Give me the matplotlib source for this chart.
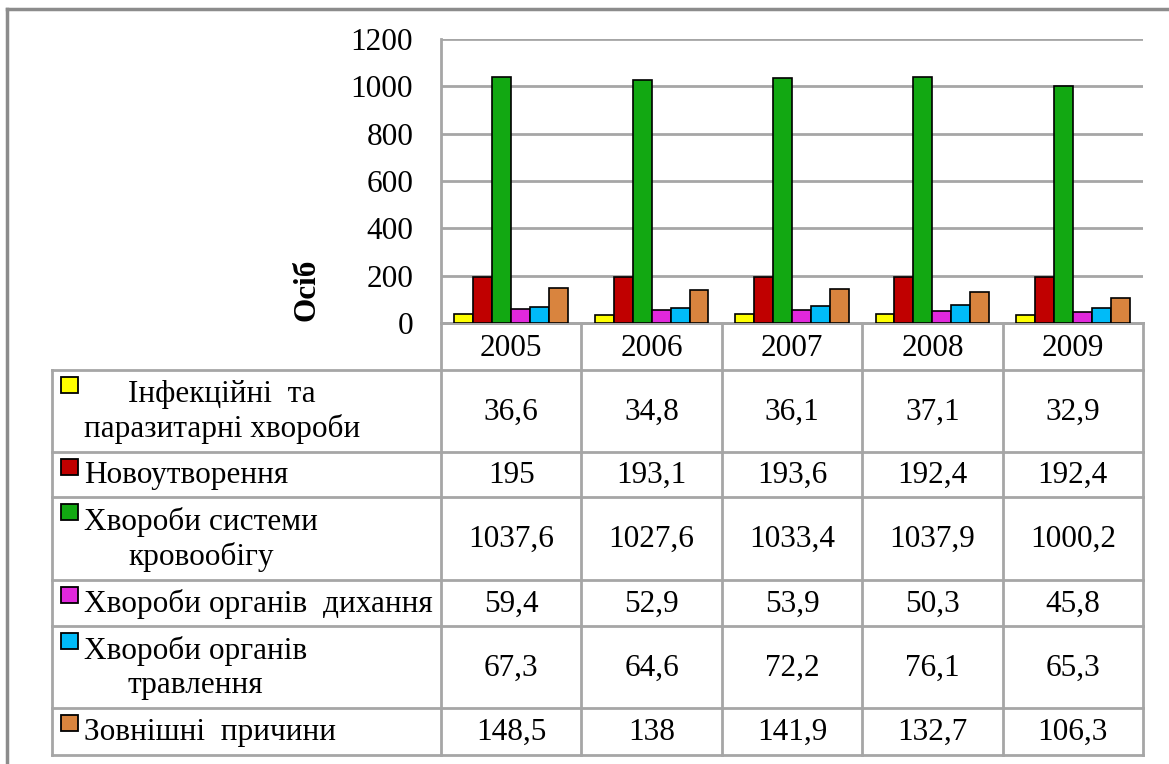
import numpy as np
import matplotlib.pyplot as plt

plt.rcParams['font.family'] = ['Liberation Serif', 'DejaVu Serif']

years = ['2005', '2006', '2007', '2008', '2009']
series_names = ['Інфекційні  та\nпаразитарні хвороби',
                'Новоутворення',
                'Хвороби системи\nкровообігу',
                'Хвороби органів  дихання',
                'Хвороби органів\nтравлення',
                'Зовнішні  причини']
infectious = [36.6, 34.8, 36.1, 37.1, 32.9]
neoplasms = [195, 193.1, 193.6, 192.4, 192.4]
circulatory = [1037.6, 1027.6, 1033.4, 1037.9, 1000.2]
respiratory = [59.4, 52.9, 53.9, 50.3, 45.8]
digestive = [67.3, 64.6, 72.2, 76.1, 65.3]
external = [148.5, 138, 141.9, 132.7, 106.3]
series_values = [infectious, neoplasms, circulatory, respiratory, digestive, external]
colors = ['#FFFF00', '#C00000', '#12A812', '#E128DC', '#00BBF8', '#D9843E']

W, H = 1169, 764
fig = plt.figure(figsize=(W / 100, H / 100), dpi=100)

## pixel layout
px_left, px_right = 441, 1143
px_top, px_zero = 39, 323
row_lines = [323, 370, 452, 497, 580, 626, 708, 755]
tab_left = 52
grid_col = '#A6A6A6'
fs = 22.5

## overlay axes in pixel coords for the table & frame
ov = fig.add_axes([0, 0, 1, 1])
ov.set_xlim(0, W)
ov.set_ylim(H, 0)
ov.axis('off')

## bar chart
ax = fig.add_axes([px_left / W, 1 - px_zero / H, (px_right - px_left) / W, (px_zero - px_top) / H])
x = np.arange(len(years))
n = len(series_values)
bw = 0.81 / n
for i, (vals, c) in enumerate(zip(series_values, colors)):
    ax.bar(x - 0.405 + bw * (i + 0.5), vals, bw, color=c, edgecolor='black', linewidth=1.2, zorder=3)
ax.set_xlim(-0.5, len(years) - 0.5)
ax.set_ylim(0, 1200)
ax.set_yticks(range(0, 1201, 200))
ax.tick_params(axis='y', length=0, labelsize=fs, pad=20)
ax.set_xticks([])
ax.grid(axis='y', color=grid_col, linewidth=2, zorder=0)
for s in ['top', 'right']:
    ax.spines[s].set_visible(False)
ax.spines['left'].set_color(grid_col)
ax.spines['left'].set_linewidth(2)
ax.spines['bottom'].set_color(grid_col)
ax.spines['bottom'].set_linewidth(2)
ax.set_ylabel('Осіб', fontsize=fs, fontweight='bold')
ax.yaxis.set_label_coords(-0.17, 0.116)

## outer frame (only top & left visible)
ov.plot([7, 7], [H + 5, 9], color='#8C8C8C', lw=2.5)
ov.plot([7, W + 5], [9, 9], color='#8C8C8C', lw=2.5)

## table grid
col_w = (px_right - px_left) / len(years)
cols = [px_left + col_w * k for k in range(len(years) + 1)]
for k, yl in enumerate(row_lines):
    x0 = px_left if k == 0 else tab_left
    ov.plot([x0, px_right], [yl, yl], color=grid_col, lw=2)
for k, xc in enumerate(cols):
    ov.plot([xc, xc], [px_zero, row_lines[-1]], color=grid_col, lw=2)
ov.plot([tab_left, tab_left], [row_lines[1], row_lines[-1]], color=grid_col, lw=2)

## year header
for j, yr in enumerate(years):
    ov.text((cols[j] + cols[j + 1]) / 2, (row_lines[0] + row_lines[1]) / 2 + 2, yr,
            ha='center', va='center', fontsize=fs)

## rows: legend key, label, values
for i, (name, vals, c) in enumerate(zip(series_names, series_values, colors)):
    y0, y1 = row_lines[i + 1], row_lines[i + 2]
    ym = (y0 + y1) / 2
    ov.add_patch(plt.Rectangle((61, y0 + 7), 17, 16, facecolor=c, edgecolor='black', lw=1.3))
    ov.text(84, ym + 1, name, ha='left', va='center', fontsize=fs,
            multialignment='center', linespacing=1.2)
    for j, v in enumerate(vals):
        txt = f'{v:g}'.replace('.', ',')
        ov.text((cols[j] + cols[j + 1]) / 2, ym + 1, txt, ha='center', va='center', fontsize=fs)

fig.savefig('out.png', dpi=100)
